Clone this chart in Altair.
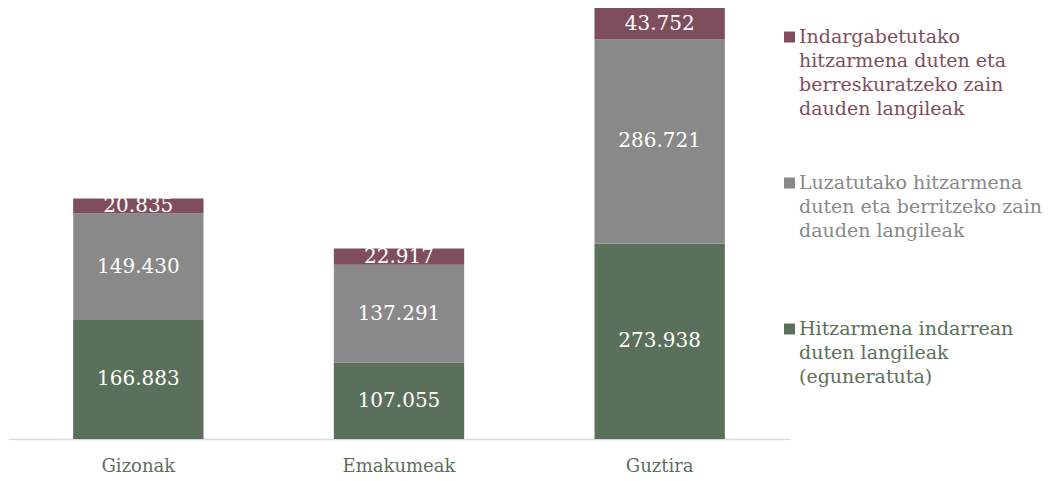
import altair as alt
import pandas as pd

categories = ["Gizonak", "Emakumeak", "Guztira"]
series = [
    "Hitzarmena indarrean duten langileak (eguneratuta)",
    "Luzatutako hitzarmena duten eta berritzeko zain dauden langileak",
    "Indargabetutako hitzarmena duten eta berreskuratzeko zain dauden langileak",
]
legend_text = [
    "Hitzarmena indarrean\nduten langileak\n(eguneratuta)",
    "Luzatutako hitzarmena\nduten eta berritzeko zain\ndauden langileak",
    "Indargabetutako\nhitzarmena duten eta\nberreskuratzeko zain\ndauden langileak",
]
indarrean = [166883, 107055, 273938]
luzatuta = [149430, 137291, 286721]
indargabetuta = [20835, 22917, 43752]
colors = ["#5A705A", "#898989", "#7F4E5C"]

values = [indarrean, luzatuta, indargabetuta]
rows = []
for si, s in enumerate(series):
    for ci, c in enumerate(categories):
        v = values[si][ci]
        rows.append({"category": c, "series": s, "value": v, "order": si,
                     "label": f"{v:,}".replace(",", ".")})
df = pd.DataFrame(rows)
ymax = max(sum(values[s][c] for s in range(3)) for c in range(3))

legend_df = pd.DataFrame({"series": series, "text": legend_text})

FONT = "DejaVu Serif"
yscale = alt.Scale(domain=[0, ymax], nice=False, zero=True)
x = alt.X("category:N", sort=categories,
          scale=alt.Scale(paddingInner=0.5, paddingOuter=0.25),
          axis=alt.Axis(title=None, labelAngle=0, ticks=False, domainColor="#D9D9D9",
                        domainWidth=1.5, labelColor="#5B6F5B", labelFont=FONT,
                        labelFontSize=18, labelPadding=18))
cscale = alt.Scale(domain=series, range=colors)

base = alt.Chart(df).transform_stack(
    stack="value", groupby=["category"], sort=[alt.SortField("order")], as_=["v0", "v1"]
).transform_calculate(mid="(datum.v0 + datum.v1) / 2")

bars = base.mark_bar().encode(
    x=x,
    y=alt.Y("v0:Q", scale=yscale, axis=None),
    y2="v1:Q",
    color=alt.Color("series:N", scale=cscale, legend=None),
)
labels = base.mark_text(color="white", font=FONT, fontSize=20).encode(
    x=x,
    y=alt.Y("mid:Q", scale=yscale, axis=None),
    text="label:N",
)

lscale = alt.Scale(type="point", padding=0, domain=series[::-1], range=[29, 321])
lbase = alt.Chart(legend_df)
lsq = lbase.mark_square(size=121, opacity=1).encode(
    x=alt.value(781.5),
    y=alt.Y("series:N", scale=lscale, axis=None),
    color=alt.Color("series:N", scale=cscale, legend=None),
)
ltx = lbase.mark_text(align="left", baseline="top", dy=-9, lineBreak="\n",
                      lineHeight=24, font=FONT, fontSize=19).encode(
    x=alt.value(791),
    y=alt.Y("series:N", scale=lscale, axis=None),
    text="text:N",
    color=alt.Color("series:N", scale=cscale, legend=None),
)

chart = alt.layer(bars, labels, lsq, ltx).resolve_scale(y="independent").properties(
    width=782, height=431, padding=0, background="white"
).configure_view(stroke=None)

chart.save("out.html", embed_options={"renderer": "svg", "actions": False})
